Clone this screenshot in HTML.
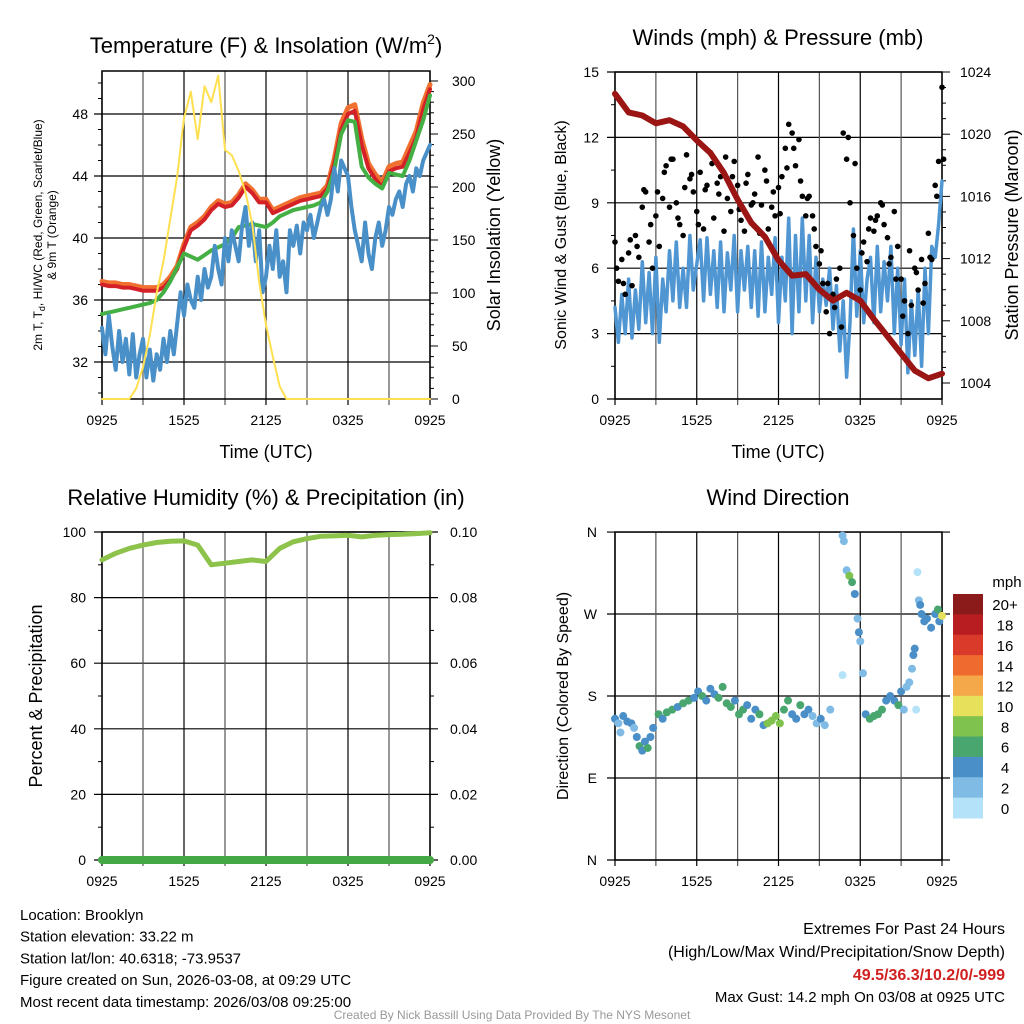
<!DOCTYPE html>
<html><head><meta charset="utf-8"><style>
body{margin:0;background:#fff;}
svg{display:block;font-family:"Liberation Sans",sans-serif;}
</style></head><body>
<svg id="s" width="1024" height="1024" viewBox="0 0 1024 1024"></svg>
<script>
// ---------- DATA ----------
const hoursTicks = ["0925","1525","2125","0325","0925"];
// temperature panel, 0.5 h steps from 0925 UTC
const tempRed = [37.0,36.9,36.9,36.8,36.8,36.7,36.6,36.6,36.6,36.8,37.3,38.0,39.4,40.5,40.8,41.2,41.8,42.2,42.0,42.1,42.6,43.3,42.9,42.3,42.3,41.6,41.8,42.0,42.2,42.4,42.5,42.6,42.7,43.2,44.8,47.0,48.0,48.2,46.0,44.5,43.8,43.3,44.3,44.5,44.6,45.5,46.5,48.3,49.6];
const tempOrange = [37.2,37.1,37.1,37.0,37.0,36.9,36.8,36.8,36.8,37.0,37.5,38.2,39.6,40.7,41.0,41.4,42.0,42.4,42.2,42.3,42.8,43.5,43.1,42.5,42.5,41.8,42.0,42.2,42.4,42.6,42.7,42.8,42.9,43.4,45.1,47.4,48.4,48.6,46.4,44.8,44.1,43.6,44.6,44.8,44.9,45.9,46.9,48.7,49.9];
const tempGreen = [35.1,35.2,35.3,35.4,35.5,35.6,35.7,35.8,36.0,36.5,37.2,38.1,39.0,38.8,38.6,38.9,39.2,39.4,39.6,40.0,40.7,40.8,40.9,40.8,40.7,41.0,41.4,41.6,41.8,41.9,42.0,42.1,42.3,43.0,44.4,46.7,47.6,47.5,44.6,43.9,43.5,43.2,44.2,44.1,44.0,45.0,46.3,47.6,49.2];
// dewpoint, 0.25 h steps
const tempBlue = [34.2,32.5,35.0,33.0,31.5,34.0,32.0,33.5,31.2,33.8,31.0,32.5,33.5,31.0,32.8,30.8,32.5,31.5,33.5,32.0,34.0,32.5,34.5,36.5,35.0,37.0,36.0,35.5,37.5,36.0,38.0,36.8,37.5,39.5,38.0,37.0,40.0,38.5,40.5,39.5,38.5,40.8,42.0,39.5,41.0,38.5,40.5,36.5,37.5,39.5,38.0,40.5,37.5,38.5,36.5,40.5,39.5,40.8,39.0,41.0,40.5,41.5,40.0,41.0,42.0,42.5,41.5,42.5,44.5,43.0,45.0,44.5,44.0,42.0,40.5,39.5,38.5,41.0,39.0,38.0,40.0,41.0,39.5,40.5,42.0,41.5,42.5,43.0,42.0,43.5,44.0,43.0,44.5,44.0,45.0,45.5,46.0];
const solar = [0,0,0,0,0,10,30,60,100,130,170,210,265,290,245,295,280,305,235,230,215,195,165,110,70,40,12,0,0,0,0,0,0,0,0,0,0,0,0,0,0,0,0,0,0,0,0,0,0];
// winds panel, sonic wind 0.25 h steps
const windSonic = [4.2,2.6,4.8,3.0,5.5,2.8,5.0,3.2,6.3,3.5,5.8,3.0,6.5,2.6,5.5,4.0,6.8,4.5,7.2,4.2,6.0,4.2,7.5,5.0,6.2,7.3,4.5,7.4,4.8,6.8,4.2,7.2,4.0,6.7,5.0,7.5,4.0,6.8,5.0,7.0,4.2,6.8,3.8,7.2,4.0,6.5,4.8,7.4,3.5,6.5,4.5,8.3,3.0,7.5,4.0,8.3,4.5,7.5,3.5,6.5,4.0,5.5,4.3,6.0,3.2,5.2,2.2,4.5,1.0,3.5,7.8,3.8,6.8,3.5,5.5,6.5,3.5,7.0,4.0,6.3,4.5,7.0,3.0,6.0,2.5,5.5,1.2,4.5,2.0,5.0,1.5,6.0,3.0,7.0,6.5,8.0,10.0];
const windGust = [7.2,5.4,6.4,4.8,6.7,5.2,7.5,6.5,8.8,9.5,7.2,6.0,8.4,7.0,9.2,10.7,8.8,11.0,9.0,8.0,7.5,11.2,10.1,9.5,8.6,10.4,7.8,9.8,11.3,8.3,9.9,10.2,7.7,9.2,8.6,10.9,9.8,8.2,7.7,10.3,8.9,9.4,11.1,8.9,10.5,7.8,8.8,8.4,9.7,10.2,11.5,12.6,12.2,10.7,11.9,9.3,8.4,9.3,8.4,7.0,6.2,5.3,4.0,3.0,4.8,5.5,6.0,12.2,11.0,9.0,7.5,6.0,5.0,7.2,6.3,8.3,7.7,8.4,9.0,8.0,7.4,6.5,8.6,7.0,5.5,4.5,3.0,4.3,6.0,5.0,6.4,5.3,7.6,6.4,9.8,10.9,14.3];
const windGustB = [6.0,5.3,7.3,7.0,9.6,8.0,9.5,10.4,11.0,8.3,9.7,10.3,8.0,9.6,10.8,9.4,11.1,10.2,8.7,9.9,9.0,7.6,10.0,9.5,8.5,10.6,11.5,10.0,9.2,7.8,6.8,5.3,4.2,3.3,12.0,10.8,6.7,7.8,8.2,8.9,6.2,5.5,3.8,6.8,5.8,4.4,6.5,9.3,11.0];
const pressure = [1022.6,1021.4,1021.2,1020.7,1020.9,1020.5,1019.6,1018.8,1017.5,1015.8,1014.3,1013.4,1011.9,1010.9,1011.0,1010.0,1009.3,1009.8,1009.3,1008.1,1007.0,1005.9,1004.8,1004.3,1004.6];
// RH panel (hourly)
const rh = [91.5,93.5,95,96,96.8,97.2,97.3,96,90,90.5,91,91.5,91,95,97,98,98.7,98.8,99,98.5,99,99.2,99.3,99.5,99.8];
const precip = [0,0,0,0,0,0,0,0,0,0,0,0,0,0,0,0,0,0,0,0,0,0,0,0,0];
// wind direction
const dirT = [0,0.25,0.4,0.6,0.9,1.2,1.4,1.6,1.8,2.0,2.2,2.4,2.6,2.8,3.2,3.5,3.8,4.2,4.6,5.0,5.4,5.8,6.1,6.4,6.7,7.0,7.3,7.6,7.9,8.2,8.5,8.8,9.1,9.4,9.7,10.0,10.3,10.6,10.9,11.2,11.5,11.8,12.1,12.4,12.7,13.0,13.3,13.6,13.9,14.2,14.5,14.8,15.1,15.4,15.8,16.7,16.8,17.0,17.2,17.4,17.6,17.8,17.9,18.0,18.2,16.7,18.4,18.7,19.0,19.3,19.6,19.9,20.2,20.5,20.8,21.0,21.2,21.4,21.6,21.8,21.9,22.0,22.1,22.2,22.3,22.4,22.5,22.7,22.9,23.2,23.5,23.7,23.8,24.0];
const dirD = [155,150,140,158,152,150,145,135,125,120,130,123,135,145,160,155,162,165,168,172,175,178,185,180,175,188,182,178,190,172,168,175,160,165,170,155,165,160,148,150,153,158,150,165,175,160,155,170,160,165,158,150,155,148,165,356,350,318,312,305,292,265,250,240,205,203,160,155,158,160,165,175,180,175,170,185,165,190,195,210,225,232,165,316,285,280,270,262,265,255,270,275,262,268];
const dirS = [5,3,3,5,5,5,3,5,7,5,5,7,5,5,7,5,7,7,5,7,7,5,5,7,5,5,5,7,7,7,7,5,7,7,5,5,5,7,5,9,9,9,9,7,7,5,5,7,5,5,3,3,5,3,3,3,3,3,9,7,5,3,5,3,3,1,5,7,7,7,7,5,5,5,7,5,3,3,3,3,5,5,1,1,3,5,5,5,5,5,5,7,5,11];
const speedBins = ["0","2","4","6","8","10","12","14","16","18","20+"];
const binColors = ["#b4e2f8","#80bbe5","#4a8fc8","#4aa66f","#7fc24e","#e6e05a","#f5a84a","#ef6a2e","#d93a2a","#b81d22","#8b1a1a"];

// ---------- DRAW ----------
const NS="http://www.w3.org/2000/svg";
const svg=document.getElementById('s');
function el(tag,attrs,parent){const e=document.createElementNS(NS,tag);for(const k in attrs)e.setAttribute(k,attrs[k]);(parent||svg).appendChild(e);return e;}
function txt(x,y,s,size,anchor,parent,rot,extra){const t=el('text',{x:x,y:y,'font-size':size,'text-anchor':anchor||'middle',fill:'#000'},parent);if(rot)t.setAttribute('transform','rotate(-90 '+x+' '+y+')');if(extra)for(const k in extra)t.setAttribute(k,extra[k]);t.textContent=s;return t;}

function frame(g,x0,x1,y0,y1){
  for(let h=0;h<=24;h+=3){const x=x0+h*(x1-x0)/24;
    const l=el('line',{x1:x,x2:x,y1:y0,y2:y1+6,stroke:(h%6==0)?'#000':'#555','stroke-width':1.2},g);
    }
  for(let i=0;i<5;i++){const x=x0+i*(x1-x0)/4;
    const t=txt(x,y1+26,hoursTicks[i],14,'middle',g);
    }
  const r=el('rect',{x:x0,y:y0,width:x1-x0,height:y1-y0,fill:'none',stroke:'#000','stroke-width':1.5},g);
  
}
function poly(g,pts,color,w,name){const p=el('polyline',{points:pts.map(p=>p[0].toFixed(1)+','+p[1].toFixed(1)).join(' '),fill:'none',stroke:color,'stroke-width':w,'stroke-linejoin':'round','stroke-linecap':'round'},g);
  return p;}

// ===== Panel 1: temperature =====
(function(){
  const g=el('g',{});
  const x0=102,x1=430,y0=71,y1=399;
  const xs=t=>x0+t*(x1-x0)/24;
  const ys=v=>114+(48-v)*15.5;
  const ys2=v=>399-v*1.06;
  [48,44,40,36,32].forEach(v=>{const l=el('line',{x1:x0-8,x2:x1,y1:ys(v),y2:ys(v),stroke:'#000','stroke-width':1.2},g);
    
    const t=txt(x0-14,ys(v)+5,String(v),14,'end',g);});
  for(let v=30;v<=50;v+=1){if(v%4){el('line',{x1:x0-4,x2:x0,y1:ys(v),y2:ys(v),stroke:'#000'},g);}}
  for(let v=0;v<=300;v+=50){el('line',{x1:x1,x2:x1+8,y1:ys2(v),y2:ys2(v),stroke:'#000'},g);
    const t=txt(x1+22,ys2(v)+5,String(v),14,'start',g);}
  for(let v=10;v<300;v+=10){if(v%50)el('line',{x1:x1,x2:x1+4,y1:ys2(v),y2:ys2(v),stroke:'#000'},g);}
  frame(g,x0,x1,y0,y1);
  const half=a=>a.map((v,i)=>[xs(i*0.5),ys(v)]);
  poly(g,half(tempOrange),'#f07030',5,'series-9m-temp');
  poly(g,half(tempRed),'#d42027',4,'series-2m-temp');
  poly(g,half(tempGreen),'#44b044',4,'series-heat-index');
  poly(g,tempBlue.map((v,i)=>[xs(i*0.25),ys(v)]),'#4a90c8',4,'series-dewpoint');
  poly(g,solar.map((v,i)=>[xs(i*0.5),ys2(v)]),'#ffe050',2,'series-solar');
  const tt=txt(266,53,'',22,'middle',g);
  tt.innerHTML='Temperature (F) &amp; Insolation (W/m<tspan font-size="14" dy="-9">2</tspan><tspan dy="9">)</tspan>';
  const xl=txt(266,458,'Time (UTC)',18,'middle',g);
  const a=txt(42,235,'',12,'middle',g,true);
  a.innerHTML='2m T, T<tspan font-size="9" dy="3">d</tspan><tspan dy="-3">, HI/WC (Red, Green, Scarlet/Blue)</tspan>';
  const b=txt(56,235,'& 9m T (Orange)',12,'middle',g,true);
  const c=txt(500,235,'Solar Insolation (Yellow)',18,'middle',g,true);
})();

// ===== Panel 2: winds =====
(function(){
  const g=el('g',{});
  const x0=615,x1=942,y0=72,y1=399;
  const xs=t=>x0+t*(x1-x0)/24;
  const ys=v=>399-v*21.8;
  const yp=v=>72+(1024-v)*15.55;
  [15,12,9,6,3,0].forEach(v=>{const l=el('line',{x1:x0-8,x2:x1,y1:ys(v),y2:ys(v),stroke:'#000','stroke-width':1.2},g);
    
    const t=txt(x0-16,ys(v)+5,String(v),14,'end',g);});
  for(let v=1.5;v<15;v+=3)el('line',{x1:x0-4,x2:x0,y1:ys(v),y2:ys(v),stroke:'#000'},g);
  [1024,1020,1016,1012,1008,1004].forEach(v=>{el('line',{x1:x1,x2:x1+8,y1:yp(v),y2:yp(v),stroke:'#000'},g);
    const t=txt(x1+18,yp(v)+5,String(v),14,'start',g);});
  for(let v=1005;v<1024;v++){if(v%4)el('line',{x1:x1,x2:x1+4,y1:yp(v),y2:yp(v),stroke:'#000'},g);}
  frame(g,x0,x1,y0,y1);
  poly(g,windSonic.map((v,i)=>[xs(i*0.25),ys(v)]),'#4f96d2',3.5,'series-sonic-wind');
  windGust.forEach((v,i)=>{const c=el('circle',{cx:xs(i*0.25),cy:ys(v),r:2.8,fill:'#000'},g);
    });
  windGustB.forEach((v,i)=>{const c=el('circle',{cx:xs(i*0.5+0.12),cy:ys(v),r:2.8,fill:'#000'},g);
    });
  poly(g,pressure.map((v,i)=>[xs(i),yp(v)]),'#9b1515',6,'series-pressure');
  const tt=txt(778,45,'Winds (mph) & Pressure (mb)',22,'middle',g);
  const xl=txt(778,458,'Time (UTC)',18,'middle',g);
  const a=txt(566,235,'Sonic Wind & Gust (Blue, Black)',16,'middle',g,true);
  const c=txt(1018,235,'Station Pressure (Maroon)',18,'middle',g,true);
})();

// ===== Panel 3: RH =====
(function(){
  const g=el('g',{});
  const x0=102,x1=430,y0=532,y1=860;
  const xs=t=>x0+t*(x1-x0)/24;
  const ys=v=>860-v*3.28;
  const yp=v=>860-v*3280;
  [100,80,60,40,20,0].forEach(v=>{const l=el('line',{x1:x0-8,x2:x1+8,y1:ys(v),y2:ys(v),stroke:'#000','stroke-width':1.2},g);
    
    const t=txt(x0-16,ys(v)+5,String(v),14,'end',g);});
  for(let v=10;v<100;v+=20){el('line',{x1:x0-4,x2:x0,y1:ys(v),y2:ys(v),stroke:'#000'},g);el('line',{x1:x1,x2:x1+4,y1:ys(v),y2:ys(v),stroke:'#000'},g);}
  ['0.10','0.08','0.06','0.04','0.02','0.00'].forEach((s,i)=>{const t=txt(x1+20,ys(100-i*20)+5,s,14,'start',g);});
  frame(g,x0,x1,y0,y1);
  poly(g,precip.map((v,i)=>[xs(i),yp(v)]),'#44a844',8,'series-precipitation');
  poly(g,rh.map((v,i)=>[xs(i),ys(v)]),'#8dc34a',5,'series-rh');
  const tt=txt(266,505,'Relative Humidity (%) & Precipitation (in)',22,'middle',g);
  const a=txt(42,696,'Percent & Precipitation',18,'middle',g,true);
})();

// ===== Panel 4: wind direction =====
(function(){
  const g=el('g',{});
  const x0=615,x1=942,y0=532,y1=860;
  const xs=t=>x0+t*(x1-x0)/24;
  const ys=d=>860-d*0.911;
  [['N',360],['W',270],['S',180],['E',90],['N',0]].forEach(([s,d])=>{const l=el('line',{x1:x0-8,x2:x1+8,y1:ys(d),y2:ys(d),stroke:'#000','stroke-width':1.2},g);
    
    const t=txt(x0-18,ys(d)+5,s,14,'end',g);});
  frame(g,x0,x1,y0,y1);
  dirT.forEach((t,i)=>{const bin=Math.min(10,Math.floor(dirS[i]/2));
    const c=el('circle',{cx:xs(t),cy:ys(dirD[i]),r:4,fill:binColors[bin]},g);
    });
  const tt=txt(778,505,'Wind Direction',22,'middle',g);
  const a=txt(568,696,'Direction (Colored By Speed)',16,'middle',g,true);
  const lg=el('g',{},g);
  const bh=(818-594)/11;
  for(let i=0;i<11;i++){const k=10-i;const y=594+i*bh;
    const r=el('rect',{x:953,y:y,width:30,height:bh+0.5,fill:binColors[k]},lg);
    const t=txt(1005,y+bh/2+6,speedBins[k],15,'middle',lg);}
  const m=txt(1007,587,'mph',15,'middle',lg);
})();

// ===== Footer =====
(function(){
  const g=el('g',{});
  const left=["Location: Brooklyn","Station elevation: 33.22 m","Station lat/lon: 40.6318; -73.9537","Figure created on Sun, 2026-03-08, at 09:29 UTC","Most recent data timestamp: 2026/03/08 09:25:00"];
  left.forEach((s,i)=>{const t=txt(20,920+i*21.7,s,15,'start',g);});
  const r1=txt(1005,934,'Extremes For Past 24 Hours',16,'end',g);
  const r2=txt(1005,957,'(High/Low/Max Wind/Precipitation/Snow Depth)',16,'end',g);
  const r3=txt(1005,980,'49.5/36.3/10.2/0/-999',16,'end',g,false,{fill:'#d02020','font-weight':'bold'});
  const r4=txt(1005,1002,'Max Gust: 14.2 mph On 03/08 at 0925 UTC',15,'end',g);
  const c=txt(512,1019,'Created By Nick Bassill Using Data Provided By The NYS Mesonet',12,'middle',g,false,{fill:'#999'});
})();
</script>
</body></html>
